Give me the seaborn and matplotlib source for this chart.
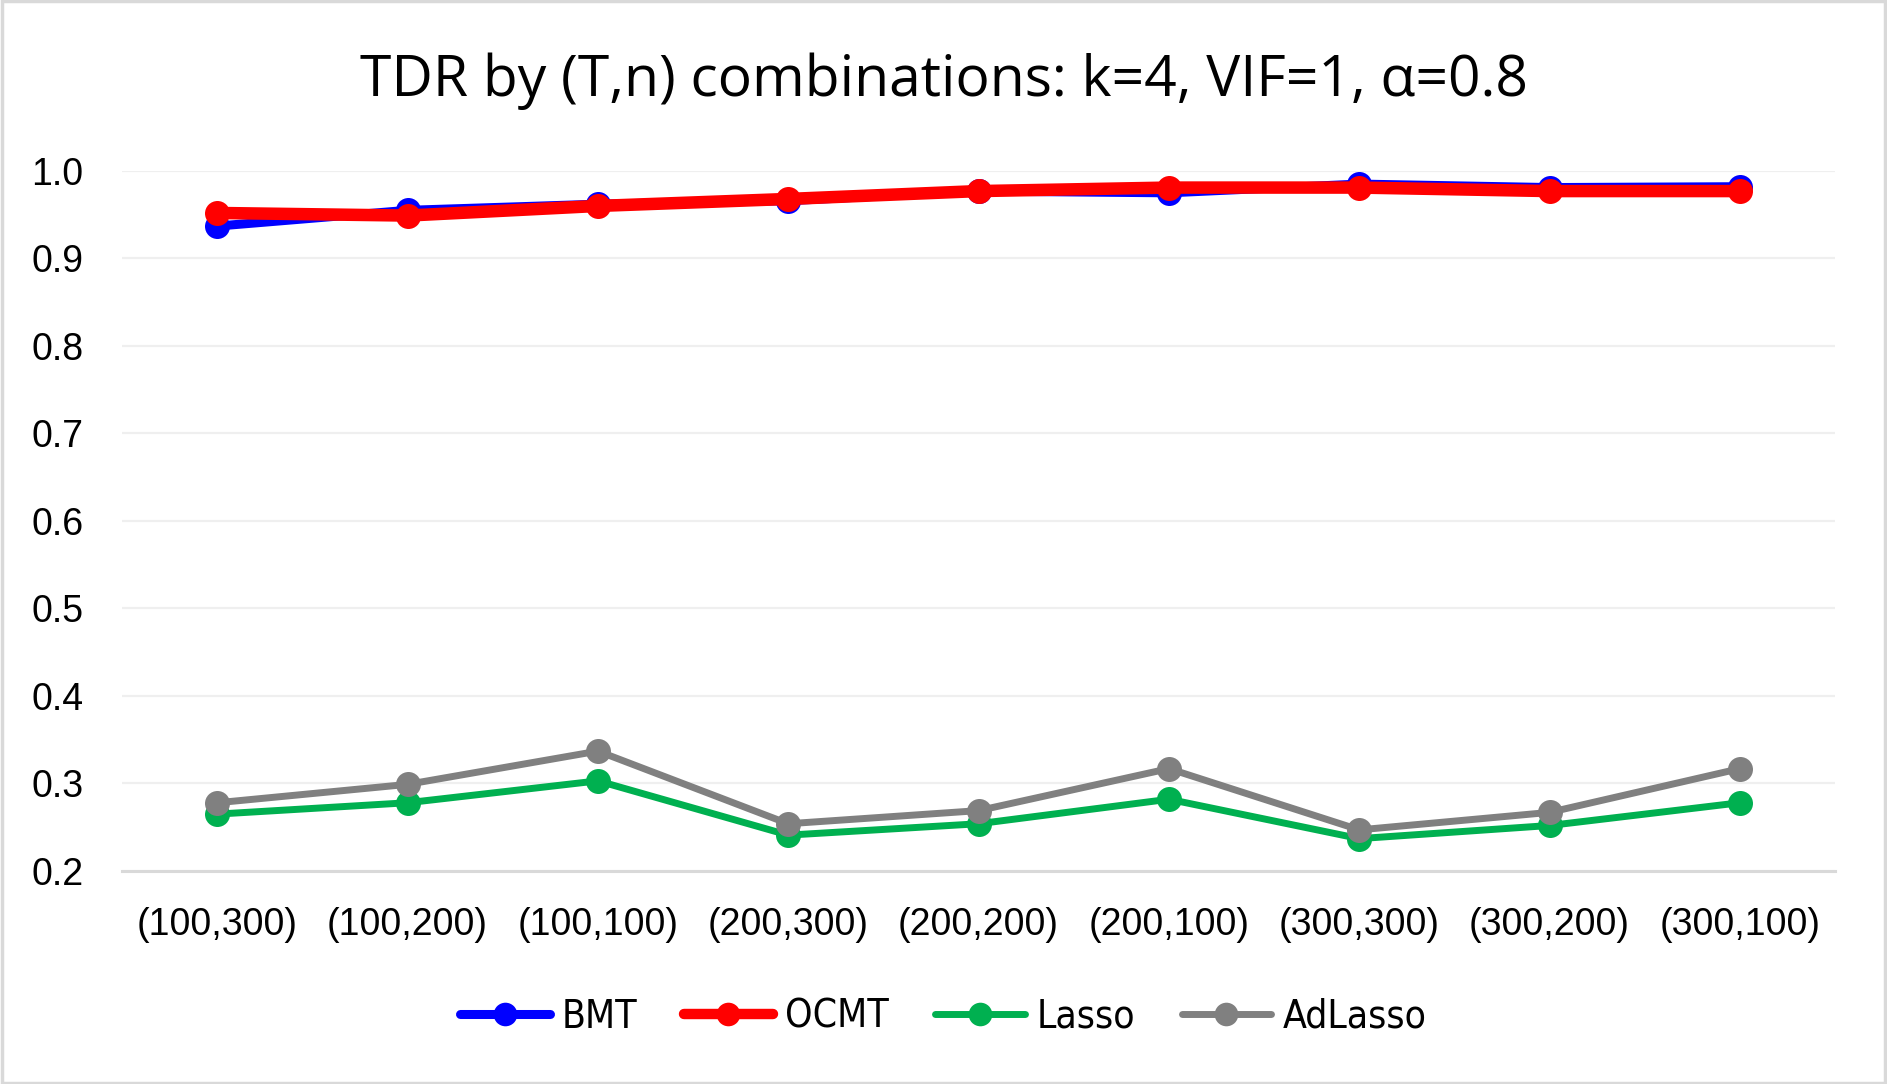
import pandas as pd
import matplotlib.pyplot as plt
import seaborn as sns
from matplotlib.lines import Line2D
from matplotlib.patches import Rectangle

combos = ['(100,300)', '(100,200)', '(100,100)', '(200,300)', '(200,200)',
          '(200,100)', '(300,300)', '(300,200)', '(300,100)']
bmt = [0.937, 0.955, 0.962, 0.966, 0.977, 0.975, 0.985, 0.981, 0.982]
ocmt = [0.952, 0.949, 0.960, 0.968, 0.977, 0.981, 0.981, 0.977, 0.977]
lasso = [0.265, 0.278, 0.303, 0.241, 0.254, 0.282, 0.237, 0.252, 0.278]
adlasso = [0.278, 0.299, 0.337, 0.254, 0.269, 0.317, 0.247, 0.267, 0.317]
yticks = [0.2, 0.3, 0.4, 0.5, 0.6, 0.7, 0.8, 0.9, 1.0]

series = {'BMT': bmt, 'OCMT': ocmt, 'Lasso': lasso, 'AdLasso': adlasso}
colors = {'BMT': '#0000FF', 'OCMT': '#FF0000', 'Lasso': '#00B050', 'AdLasso': '#808080'}
widths = {'BMT': 6.5, 'OCMT': 9.0, 'Lasso': 5.0, 'AdLasso': 5.0}
zorders = {'BMT': 4, 'OCMT': 5, 'Lasso': 3, 'AdLasso': 4}

df = pd.DataFrame([(k, c, v) for k, vals in series.items() for c, v in zip(combos, vals)],
                  columns=['method', 'combo', 'tdr'])
df['pos'] = df['combo'].map({c: i for i, c in enumerate(combos)})

sns.set_theme(style='white')
plt.rcParams['font.family'] = ['Liberation Sans', 'DejaVu Sans']
plt.rcParams['text.color'] = 'black'

fig = plt.figure(figsize=(18.87, 10.84), dpi=100)
ax = fig.add_axes([0.0647, 0.1965, 0.9078, 0.6458])

for name in series:
    sub = df[df['method'] == name]
    sns.lineplot(data=sub, x='pos', y='tdr', ax=ax, color=colors[name],
                 linewidth=widths[name], marker='o', markersize=18,
                 markeredgewidth=0, sort=False, zorder=zorders[name],
                 clip_on=False, legend=False)

ax.set_xlim(-0.5, len(combos) - 0.5)
ax.set_ylim(0.2, 1.0)
ax.set_xticks(range(len(combos)))
ax.set_xticklabels(combos)
ax.set_yticks(yticks)
ax.set_yticklabels([f'{t:.1f}' for t in yticks])
ax.tick_params(axis='x', labelsize=27, pad=26, length=0, labelcolor='black')
ax.tick_params(axis='y', labelsize=27, pad=28, length=0, labelcolor='black')
ax.set_xlabel('')
ax.set_ylabel('')
ax.grid(axis='y', color='#EFEFEF', linewidth=1.6)
ax.set_axisbelow(True)
for s in ['top', 'right', 'left']:
    ax.spines[s].set_visible(False)
ax.spines['bottom'].set_color('#D9D9D9')
ax.spines['bottom'].set_linewidth(2.2)
ax.spines['bottom'].set_zorder(1)

fig.text(0.5, 0.925, 'TDR by (T,n) combinations: k=4, VIF=1, α=0.8',
         ha='center', va='center', fontsize=41, color='black',
         family=['Open Sans', 'DejaVu Sans'])

handles = [Line2D([0], [0], color=colors[n], linewidth=widths[n] if n != 'OCMT' else 7.5,
                  marker='o', markersize=17, markeredgewidth=0) for n in series]
fig.legend(handles, list(series.keys()), loc='center', bbox_to_anchor=(0.5, 0.062),
           ncol=4, frameon=False, handlelength=2.3, handletextpad=0.3,
           columnspacing=1.2,
           prop={'family': ['DejaVu Sans'], 'stretch': 'condensed', 'size': 28})

fig.patches.append(Rectangle((0.001, 0.001), 0.998, 0.998, transform=fig.transFigure,
                             fill=False, edgecolor='#D9D9D9', linewidth=2.5))

plt.savefig('out.png', dpi=100)
plt.close()
